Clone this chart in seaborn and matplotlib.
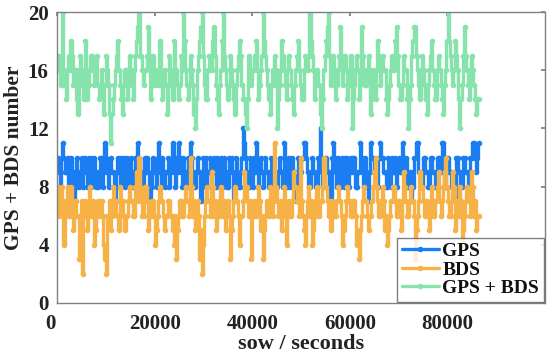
import numpy as np
import pandas as pd
import matplotlib
matplotlib.use("Agg")
import matplotlib.pyplot as plt
import matplotlib.transforms as mtransforms
import seaborn as sns

INTERVAL = 240  # seconds between epochs

gps = [9,10,9,8,10,11,10,9,9,10,8,9,10,8,9,7,8,10,9,8,9,10,8,9,10,9,8,10,9,8,10,9,10,8,9,8,
       9,10,10,8,9,11,10,9,8,9,10,9,9,8,7,9,10,9,8,10,9,10,8,9,10,9,8,10,9,8,9,10,10,11,10,9,
       9,8,8,10,9,10,9,8,7,8,10,9,9,8,10,11,9,8,10,9,8,9,9,10,8,9,10,11,9,8,10,9,11,10,9,8,
       10,9,9,8,10,9,11,10,9,8,8,9,10,9,9,7,8,10,9,10,8,9,9,10,8,9,10,9,8,10,9,8,10,9,8,10,
       9,8,8,10,9,10,9,7,8,10,9,8,8,9,10,12,11,10,9,8,8,10,9,8,10,9,11,10,8,9,10,9,8,9,10,9,
       9,8,8,10,9,10,9,8,8,9,10,9,9,8,11,10,8,9,10,8,9,10,8,9,7,8,10,9,9,10,10,11,11,10,9,8,
       8,9,10,9,9,8,8,10,10,12,9,8,8,10,10,9,9,8,7,10,11,10,9,8,10,9,8,10,9,8,10,9,10,8,9,10,
       9,10,10,8,8,9,9,11,10,9,8,10,9,8,7,9,11,10,10,9,9,8,8,10,11,10,10,9,9,8,8,10,9,8,10,9,
       9,10,8,9,10,9,9,11,10,9,10,8,8,9,9,7,8,10,10,11,11,9,9,8,8,10,10,9,9,8,8,10,10,9,9,8,
       8,10,10,9,9,11,11,8,8,10,10,9,9,8,8,7,7,10,10,9,9,8,8,10,10,9,9,8,8,10,10,11,11,10,9,10,
       11]

bds = [7,8,6,7,8,7,4,6,7,8,6,7,8,6,5,7,7,6,6,3,6,7,2,6,7,6,5,7,8,6,6,7,4,5,6,7,
       6,7,7,6,4,3,2,6,6,7,5,6,8,7,7,6,6,5,8,7,7,6,5,6,6,7,8,7,7,6,6,8,9,7,10,8,
       7,6,6,8,8,7,5,6,6,7,7,6,4,5,6,7,8,7,7,6,5,6,6,7,7,6,6,5,4,6,3,5,6,7,7,6,
       6,7,8,7,7,6,10,8,6,7,5,6,7,6,3,5,2,4,6,7,8,7,7,6,9,8,6,7,5,6,7,6,8,7,6,7,
       5,6,7,6,3,5,6,7,8,7,7,6,4,6,6,7,9,8,8,7,6,7,3,6,7,6,6,7,8,7,5,6,3,5,6,7,
       7,6,8,7,6,7,11,8,7,6,6,7,5,6,8,7,4,6,7,6,6,7,9,8,8,7,7,6,10,7,6,5,4,6,7,8,
       6,7,4,5,7,6,8,7,6,7,7,8,10,8,8,7,6,7,5,6,7,6,6,7,8,7,7,6,4,5,6,7,8,7,7,6,
       6,7,7,6,4,5,3,5,6,7,8,7,7,6,5,6,6,7,8,9,10,8,7,6,6,7,8,7,5,6,4,5,6,7,7,8,
       8,7,6,7,7,6,5,7,9,8,7,6,6,7,8,7,7,6,3,5,6,7,9,8,8,7,6,7,7,6,5,6,8,7,6,7,
       7,8,9,7,6,7,8,9,10,8,7,6,6,7,9,8,5,6,7,6,8,7,4,5,6,7,8,7,7,6,9,8,6,7,5,6,
       6]

gps_bds = [16,17,17,15,15,20,16,15,14,16,17,16,18,17,15,16,16,14,13,16,17,16,15,14,18,16,14,15,16,17,17,16,15,16,17,15,
           14,15,16,15,13,15,17,16,15,13,11,13,14,15,16,17,18,16,15,14,13,15,16,15,14,16,17,16,15,14,16,17,18,19,20,17,
           17,16,15,16,16,17,19,17,14,15,17,16,15,16,16,15,18,16,14,15,16,15,13,15,17,16,15,14,18,16,16,15,14,15,17,16,
           20,18,16,15,14,15,17,16,15,13,12,14,16,17,18,19,20,17,15,14,14,16,17,16,16,18,19,17,15,14,13,15,16,18,20,17,
           16,15,14,15,17,16,15,14,13,15,16,17,18,17,15,14,14,13,12,14,17,16,15,16,16,17,18,16,14,15,16,17,20,18,17,16,
           15,14,13,15,16,15,17,16,12,14,15,16,18,17,16,15,14,16,17,16,15,14,13,15,16,17,18,16,15,14,14,16,17,16,16,17,
           20,18,17,16,14,15,16,15,15,13,12,14,16,17,18,19,20,17,15,16,17,16,14,15,16,17,19,17,15,16,17,16,14,15,16,17,
           12,14,15,16,17,16,14,15,19,17,16,15,15,16,17,16,13,14,16,15,14,16,18,17,15,16,17,16,16,14,13,14,15,16,17,16,
           16,18,19,17,15,14,14,15,17,16,16,14,12,14,15,17,18,19,19,17,16,15,14,16,17,16,15,14,13,15,16,17,18,16,15,14,
           14,16,17,16,15,14,13,15,16,18,20,18,17,16,15,16,18,17,16,14,12,14,15,17,19,17,16,15,14,16,17,16,15,14,13,14,
           14]

series_names = ["GPS", "BDS", "GPS + BDS"]
colors = ["#1a7ef2", "#f6b247", "#86e3ac"]

frames = []
for name, vals in zip(series_names, [gps, bds, gps_bds]):
    frames.append(pd.DataFrame({"sow": np.arange(len(vals)) * INTERVAL,
                                "num": vals, "system": name}))
df = pd.concat(frames, ignore_index=True)

sns.set_theme(style="white")
plt.rcParams["font.family"] = ["Liberation Serif", "DejaVu Serif"]
plt.rcParams["font.weight"] = "bold"

fig = plt.figure(figsize=(5.5, 3.55), dpi=100)
ax = fig.add_axes([57/550, 1 - 303/355, 488/550, 291/355])

for name, col in zip(series_names, colors):
    sub = df[df["system"] == name]
    sns.lineplot(data=sub, x="sow", y="num", ax=ax, color=col, label=name,
                 estimator=None, marker="o", markersize=4,
                 markeredgewidth=0, linewidth=2.4, drawstyle="steps-mid")

ax.set_xlim(0, 100000)
ax.set_ylim(0, 20)
ax.set_xticks([0, 20000, 40000, 60000, 80000])
ax.set_yticks([0, 4, 8, 12, 16, 20])
ax.tick_params(axis="both", which="both", direction="in", length=3,
               top=True, right=True, labelsize=15, colors="#222222",
               color="#808080")
ax.tick_params(axis="x", pad=8)
ax.tick_params(axis="y", pad=6)
for lab in ax.get_xticklabels() + ax.get_yticklabels():
    lab.set_fontweight("bold")
    lab.set_color("#222222")
offset = mtransforms.ScaledTranslation(-7/100, 0, fig.dpi_scale_trans)
xl0 = ax.get_xticklabels()[0]
xl0.set_transform(xl0.get_transform() + offset)

for sp in ax.spines.values():
    sp.set_color("#808080")
    sp.set_linewidth(1.0)

ax.set_xlabel("sow / seconds", fontsize=16, fontweight="bold", labelpad=0,
              color="#222222")
ax.set_ylabel("GPS + BDS number", fontsize=15.5, fontweight="bold",
              labelpad=3, color="#222222")

leg = ax.legend(loc="lower right", bbox_to_anchor=(1.0, 0.0),
                borderaxespad=0.05, fontsize=14, frameon=True, fancybox=False,
                handlelength=1.9, handletextpad=0.2, labelspacing=0.05,
                borderpad=0.25)
leg.get_frame().set_edgecolor("#606060")
leg.get_frame().set_linewidth(1.0)
for t in leg.get_texts():
    t.set_fontweight("bold")
    t.set_color("#111111")

fig.savefig("out.png", dpi=100)
